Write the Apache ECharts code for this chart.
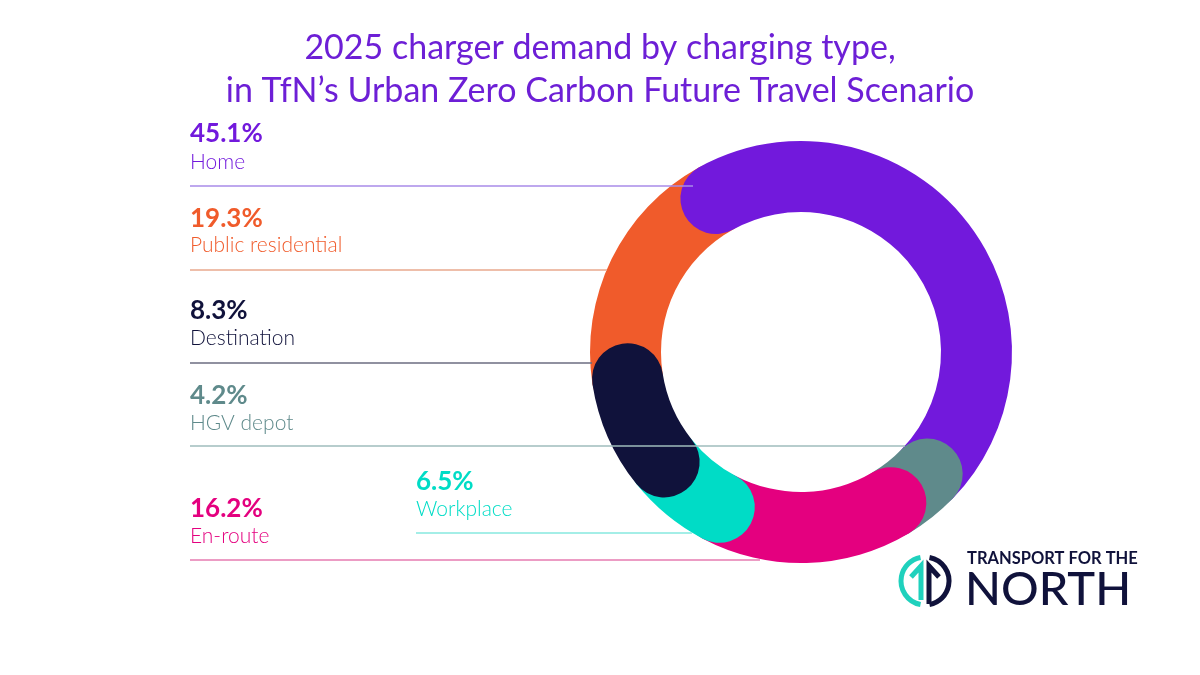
<!DOCTYPE html>
<html lang="en">
<head>
<meta charset="utf-8">
<title>2025 charger demand by charging type</title>
<style>
    html,
    body,
    #myChart {
        width: 100%;
        height: 100%;
        margin: 0;
        padding: 0;
        overflow: hidden;
        background: #ffffff;
    }
</style>
</head>
<body>
<div id="myChart"></div>
<script src="https://cdn.jsdelivr.net/npm/echarts@6/dist/echarts.min.js"></script>
<script>
    // segments clockwise from the top of the ring
    var categories = ['Home', 'HGV depot', 'En-route', 'Workplace', 'Destination', 'Public residential'];
    var shares = [45.1, 4.2, 16.2, 6.5, 8.3, 19.3];

    var colors = ['#7219dc', '#5f8a8b', '#e4007f', '#00dcc6', '#10123b', '#f05b2b'];
    var lineColors = ['#a98be8', '#9fbcbc', '#e67bb0', '#86e8df', '#6b6c80', '#e9a88e'];
    // which cap sits on top: public residential lowest, destination highest
    var layer = [2, 3, 4, 5, 6, 1];

    // label placement: [text x, percent y, name y, line y, line x1, line x2]
    var labelPos = [
        [190, 134, 162, 186, 190, 693],
        [190, 396, 423, 446, 190, 905],
        [190, 509, 536, 560, 190, 760],
        [416, 482, 509, 533, 416, 692],
        [190, 311, 338, 363, 190, 592],
        [190, 219, 245, 270, 190, 607]
    ];

    var total = shares.reduce(function (a, b) { return a + b; }, 0);
    var font = 'Lato, "Open Sans", sans-serif';

    var series = categories.map(function (name, i) {
        return {
            type: 'bar',
            name: name,
            coordinateSystem: 'polar',
            stack: 'ring',
            roundCap: true,
            barCategoryGap: '0%',
            barWidth: '100%',
            silent: true,
            z: layer[i],
            itemStyle: { color: colors[i] },
            data: [shares[i]]
        };
    });

    var graphics = [];
    categories.forEach(function (name, i) {
        var p = labelPos[i];
        graphics.push({
            type: 'line',
            z: 50,
            shape: { x1: p[4], y1: p[3], x2: p[5], y2: p[3] },
            style: { stroke: lineColors[i], lineWidth: 1.5 }
        });
        graphics.push({
            type: 'text',
            z: 50,
            x: p[0], y: p[1],
            style: {
                text: shares[i].toFixed(1) + '%',
                fill: colors[i],
                font: 'bold 26px ' + font,
                verticalAlign: 'middle'
            }
        });
        graphics.push({
            type: 'text',
            z: 50,
            x: p[0], y: p[2],
            style: {
                text: name,
                fill: colors[i],
                font: '300 21px ' + font,
                verticalAlign: 'middle'
            }
        });
    });

    // Transport for the North logo
    var navy = '#10123b', teal = '#1fd1bd';
    graphics.push(
        { type: 'arc', z: 50, shape: { cx: 925, cy: 581, r: 24, startAngle: Math.PI * 0.56, endAngle: Math.PI * 1.44, clockwise: true },
          style: { stroke: teal, lineWidth: 5, fill: null } },
        { type: 'polyline', z: 50, shape: { points: [[921, 600], [921, 566], [911, 577]] },
          style: { stroke: teal, lineWidth: 5, fill: null } },
        { type: 'arc', z: 50, shape: { cx: 925, cy: 581, r: 24, startAngle: -Math.PI * 0.44, endAngle: Math.PI * 0.44, clockwise: true },
          style: { stroke: navy, lineWidth: 5, fill: null } },
        { type: 'polyline', z: 50, shape: { points: [[929, 604], [929, 566], [939, 577]] },
          style: { stroke: navy, lineWidth: 5, fill: null } },
        { type: 'text', z: 50, x: 967, y: 559,
          style: { text: 'TRANSPORT FOR THE', fill: navy, font: 'bold 16.5px ' + font, verticalAlign: 'middle' } },
        { type: 'text', z: 50, x: 965, y: 590,
          style: { text: 'NORTH', fill: navy, font: '500 47px ' + font, verticalAlign: 'middle' } }
    );

    var myChart = echarts.init(document.getElementById('myChart'));
    var option = {
        backgroundColor: '#ffffff',
        animation: false,
        title: {
            text: '2025 charger demand by charging type,\nin TfN\u2019s Urban Zero Carbon Future Travel Scenario',
            left: 'center',
            top: 22,
            textStyle: {
                color: '#6d1fd6',
                fontFamily: font,
                fontSize: 34,
                fontWeight: 'normal',
                lineHeight: 43
            }
        },
        polar: {
            center: [801, 352],
            radius: [140, 211]
        },
        angleAxis: {
            type: 'value',
            min: 0,
            max: total,
            startAngle: 119,
            clockwise: true,
            show: false
        },
        radiusAxis: {
            type: 'category',
            data: [''],
            show: false
        },
        series: series,
        graphic: { elements: graphics }
    };
    myChart.setOption(option);
</script>
</body>
</html>
